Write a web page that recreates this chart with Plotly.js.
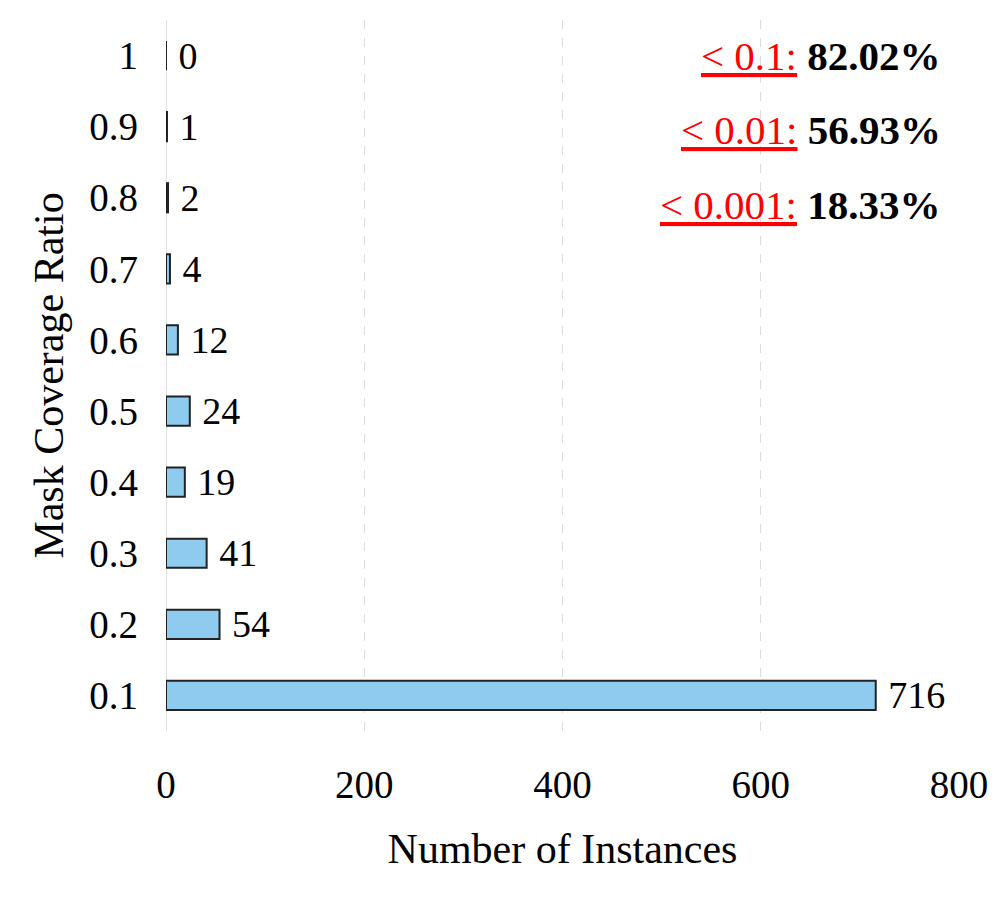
<!DOCTYPE html>
<html>
<head>
<meta charset="utf-8">
<script src="https://cdn.plot.ly/plotly-3.0.1.min.js"></script>
<style>html,body{margin:0;padding:0;background:#fff}</style>
</head>
<body>
<div id="chart" style="width:996px;height:897px"></div>
<script>
const categories = ["0.1","0.2","0.3","0.4","0.5","0.6","0.7","0.8","0.9","1"];
const counts = [716, 54, 41, 19, 24, 12, 4, 2, 1, 0];
const thresholdLabels = ["< 0.1:", "< 0.01:", "< 0.001:"];
const thresholdValues = ["82.02%", "56.93%", "18.33%"];
const xTicks = [0, 200, 400, 600, 800];

const FONT = "'Liberation Serif', 'Times New Roman', serif";

const trace = {
  type: 'bar',
  orientation: 'h',
  x: counts,
  y: categories,
  width: 0.41,
  marker: {color: '#8FCBEE', line: {color: '#222222', width: 2}},
  text: counts.map(v => ' ' + v),
  textposition: 'outside',
  constraintext: 'none',
  cliponaxis: false,
  textfont: {family: FONT, size: 38, color: '#000'},
  hoverinfo: 'skip'
};

const annYs = [0.949, 0.845, 0.740];
const annotations = thresholdLabels.map((lab, i) => ({
  xref: 'x', yref: 'paper',
  x: 784, y: annYs[i],
  xanchor: 'right', yanchor: 'middle',
  showarrow: false,
  text: '<span style="text-decoration:underline;fill:#ff0000">' + lab + '</span> <b>' + thresholdValues[i] + '</b>',
  font: {family: FONT, size: 41, color: '#000'}
}));

const layout = {
  width: 996, height: 897,
  margin: {l: 166, r: 37, t: 20, b: 166},
  paper_bgcolor: '#fff', plot_bgcolor: '#fff',
  showlegend: false,
  font: {family: FONT, color: '#000'},
  xaxis: {
    range: [0, 800],
    tickvals: xTicks,
    ticktext: xTicks.map(String),
    showgrid: true, gridcolor: '#dcdcdc', griddash: 'dash', gridwidth: 1,
    zeroline: false,
    showline: false,
    ticks: '',
    ticklabelstandoff: 27,
    tickfont: {family: FONT, size: 39},
    title: {text: 'Number of Instances', font: {family: FONT, size: 42}, standoff: 28}
  },
  yaxis: {
    type: 'category',
    categoryorder: 'array', categoryarray: categories,
    range: [-0.5, 9.5],
    showgrid: false, zeroline: false, showline: false,
    ticks: '',
    ticklabelstandoff: 27,
    tickfont: {family: FONT, size: 39},
    title: {text: 'Mask Coverage Ratio', font: {family: FONT, size: 42}, standoff: 12}
  },
  shapes: [{type: 'line', xref: 'x', yref: 'paper', x0: 0, x1: 0, y0: 0, y1: 1,
            line: {color: '#d8d8d8', width: 1.5}, layer: 'below'}],
  annotations: annotations
};

Plotly.newPlot('chart', [trace], layout, {displayModeBar: false, staticPlot: true});
</script>
</body>
</html>
